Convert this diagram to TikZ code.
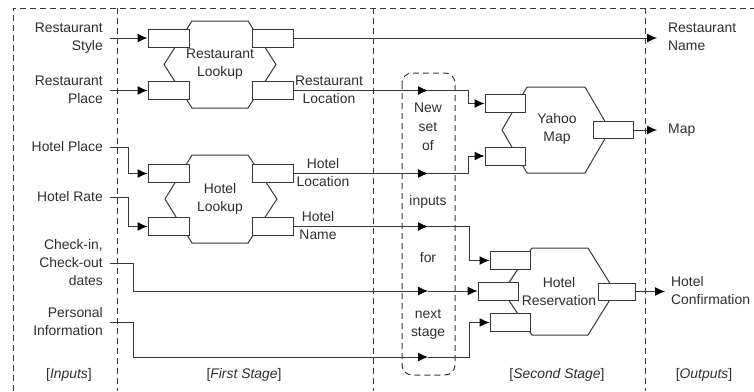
\documentclass[tikz,border=0pt]{standalone}
\usepackage{fontspec}
\setmainfont{Liberation Sans}
\usetikzlibrary{arrows.meta}
\definecolor{ln}{gray}{0.22}
\definecolor{tx}{gray}{0.18}
\begin{document}
\begin{tikzpicture}[x=1pt,y=-1pt,
  font=\fontsize{13.9}{18}\selectfont,
  every node/.style={text=tx},
  port/.style={draw=ln, fill=white, line width=1pt, minimum width=41pt, minimum height=18pt, inner sep=0pt},
  hexa/.style={draw=ln, fill=white, line width=1pt},
  wire/.style={draw=ln, line width=1pt},
  arr/.style={wire, -{Latex[length=10pt,width=9pt,color=black]}},
  frame/.style={draw=ln, line width=1pt, dash pattern=on 6pt off 4pt},
  lbl/.style={align=center, inner sep=0pt},
]
\useasboundingbox (0,0) rectangle (754,391);
% frame and stage separators
\draw[frame] (13,391) -- (13,8) -- (756,8);
\draw[frame] (117,8) -- (117,391);
\draw[frame] (373,8) -- (373,391);
\draw[frame] (645,8) -- (645,391);
\draw[frame, rounded corners=10pt] (402,73) rectangle (455,375);

% hexagons
\draw[hexa] (192,21) -- (248,21) -- (276,64.5) -- (248,108) -- (192,108) -- (164,64.5) -- cycle;
\draw[hexa] (192,155) -- (248,155) -- (277,199) -- (248,243) -- (192,243) -- (165,199) -- cycle;
\draw[hexa] (527,87) -- (585,87) -- (610,130) -- (585,173) -- (527,173) -- (502,130) -- cycle;
\draw[hexa] (532,248) -- (588,248) -- (615,291.5) -- (588,335) -- (532,335) -- (503,291.5) -- cycle;

% ports
\node[port] (RLi1) at (168.5,38) {};
\node[port] (RLi2) at (168.5,90.5) {};
\node[port] (RLo1) at (273,38) {};
\node[port] (RLo2) at (273,90.5) {};
\node[port] (HLi1) at (168.5,173.5) {};
\node[port] (HLi2) at (168.5,226.5) {};
\node[port] (HLo1) at (273,173.5) {};
\node[port] (HLo2) at (273,226.5) {};
\node[port, minimum width=40pt] (YMi1) at (505,103.5) {};
\node[port, minimum width=40pt] (YMi2) at (505,156) {};
\node[port, minimum width=40pt, minimum height=17pt] (YMo) at (613,130) {};
\node[port, minimum width=40pt] (HRi1) at (510,260.5) {};
\node[port, minimum width=40pt] (HRi2) at (498,291) {};
\node[port, minimum width=40pt] (HRi3) at (510,322.5) {};
\node[port, minimum width=37pt, minimum height=17pt] (HRo) at (616.5,291.5) {};

% block labels
\node[lbl] (RLt) at (220,64) {Restaurant\\Lookup};
\node[lbl] (HLt) at (220,199) {Hotel\\Lookup};
\node[lbl] (YMt) at (557,129) {Yahoo\\Map};
\node[lbl] (HRt) at (559,291.5) {Hotel\\Reservation};

% input texts
\node[lbl, align=right, anchor=east] (tRS) at (103,38) {Restaurant\\Style};
\node[lbl, align=right, anchor=east] (tRP) at (103,90) {Restaurant\\Place};
\node[lbl, align=right, anchor=east] (tHP) at (103,147) {Hotel Place};
\node[lbl, align=right, anchor=east] (tHR) at (103,197) {Hotel Rate};
\node[lbl, align=right, anchor=east] (tCI) at (103,263) {Check-in,\\Check-out\\dates};
\node[lbl, align=right, anchor=east] (tPI) at (103,322) {Personal\\Information};

% output texts
\node[lbl, align=left, anchor=west] (tRN) at (668,37) {Restaurant\\Name};
\node[lbl, align=left, anchor=west] (tMap) at (668,130) {Map};
\node[lbl, align=left, anchor=west] (tHC) at (671,291) {Hotel\\Confirmation};

% wire labels
\node[lbl] (wRL) at (329,90) {Restaurant\\Location};
\node[lbl] (wHL) at (323,173) {Hotel\\Location};
\node[lbl] (wHN) at (318,226) {Hotel\\Name};

% dashed box text
\node[lbl] (n1) at (428,108) {New};
\node[lbl] (n2) at (428,127) {set};
\node[lbl] (n3) at (428,146) {of};
\node[lbl] (n4) at (428,202) {inputs};
\node[lbl] (n5) at (428,258) {for};
\node[lbl] (n6) at (428,314) {next};
\node[lbl] (n7) at (428,333) {stage};

% stage labels
\node[lbl] (sIn) at (69,375) {[\textit{Inputs}]};
\node[lbl] (sFi) at (244,375) {[\textit{First Stage}]};
\node[lbl] (sSe) at (557,375) {[\textit{Second Stage}]};
\node[lbl] (sOu) at (704,375) {[\textit{Outputs}]};

% coordinates
\coordinate (cRS) at (110,38);
\coordinate (cRP) at (110,90.5);
\coordinate (cHP) at (110,147);
\coordinate (cHR) at (110,197);
\coordinate (cCI) at (110,263);
\coordinate (cPI) at (110,322);
\coordinate (bHP) at (128,147);
\coordinate (bHR) at (128,197);
\coordinate (bCI) at (133,263);
\coordinate (bPI) at (133,322);
\coordinate (m1) at (428,90.5);
\coordinate (m2) at (428,173.5);
\coordinate (m3) at (428,226.5);
\coordinate (m4) at (428,291);
\coordinate (m5) at (428,357);
\coordinate (k1) at (468,90.5);
\coordinate (k2) at (468,173.5);
\coordinate (k3) at (469,226.5);
\coordinate (k5) at (469,357);
\coordinate (oRN) at (657,38);
\coordinate (oMap) at (657,130);
\coordinate (oHC) at (665,291.5);

% wires
\draw[arr] (cRS) -- (RLi1.west);
\draw[arr] (cRP) -- (RLi2.west);
\draw[arr] (cHP) -- (bHP) |- (HLi1.west);
\draw[arr] (cHR) -- (bHR) |- (HLi2.west);
\draw[arr] (RLo1.east) -- (oRN);
\draw[arr] (RLo2.east) -- (m1);
\draw[arr] (m1) -- (k1) |- (YMi1.west);
\draw[arr] (HLo1.east) -- (m2);
\draw[arr] (m2) -- (k2) |- (YMi2.west);
\draw[arr] (HLo2.east) -- (m3);
\draw[arr] (m3) -- (k3) |- (HRi1.west);
\draw[arr] (cCI) -- (bCI) |- (m4);
\draw[arr] (m4) -- (HRi2.west);
\draw[arr] (cPI) -- (bPI) |- (m5);
\draw[arr] (m5) -- (k5) |- (HRi3.west);
\draw[arr] (YMo.east) -- (oMap);
\draw[arr] (HRo.east) -- (oHC);
\end{tikzpicture}
\end{document}
